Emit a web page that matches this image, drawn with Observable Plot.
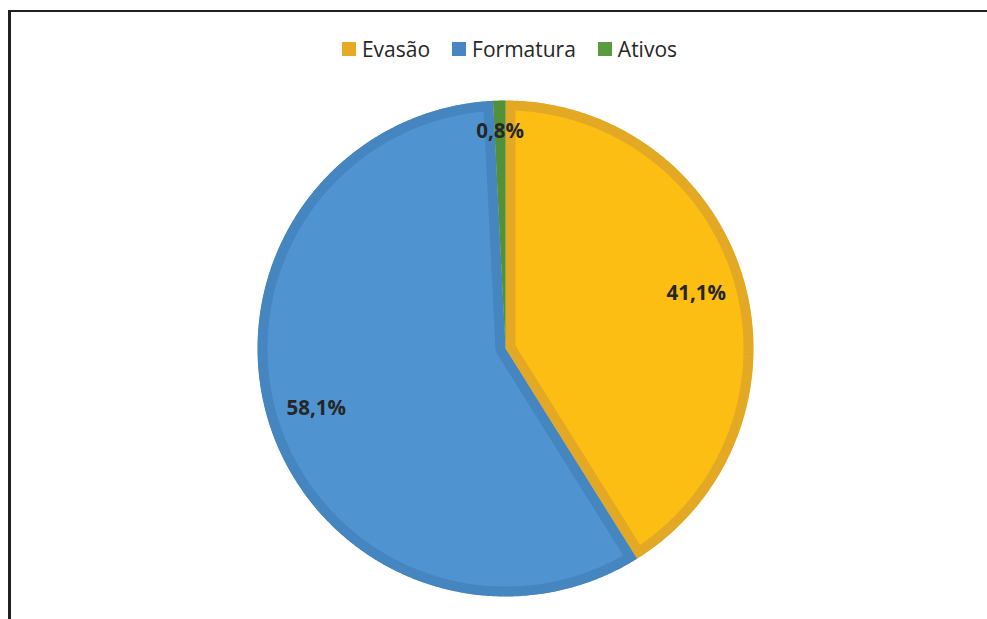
<!DOCTYPE html>
<html>
<head>
<meta charset="utf-8">
<script src="https://cdn.jsdelivr.net/npm/d3@7"></script>
<script src="https://cdn.jsdelivr.net/npm/@observablehq/plot@0.6"></script>
<style>
  html, body { margin: 0; padding: 0; background: #fff; }
  #wrap { position: relative; width: 987px; height: 619px; overflow: hidden; }
  #frame { position: absolute; left: 8px; top: 10px; width: 1000px; height: 700px;
           border-left: 3px solid #231f20; border-top: 2px solid #231f20; }
  #legend { position: absolute; top: 35px; left: 16px; width: 987px; display: flex; justify-content: center;
            gap: 22px; font-family: "Open Sans", sans-serif; font-size: 21px; line-height: 28px; color: #262626; }
  #legend .item { display: flex; align-items: center; gap: 6px; }
  #legend .sw { width: 14px; height: 14px; display: inline-block; }
  #chart { position: absolute; left: 0; top: 0; }
</style>
</head>
<body>
<div id="wrap">
  <div id="frame"></div>
  <div id="chart"></div>
  <div id="legend"></div>
</div>
<script>
// ---- data ----
const categories = ["Evasão", "Formatura", "Ativos"];
const shares = [41.1, 58.1, 0.8];
const labels = ["41,1%", "58,1%", "0,8%"];

// ---- styles ----
const fills = ["#FCBE13", "#4F94D0", "#5E9C42"];
const strokes = ["#E4A924", "#4585C0", "#53903A"];
const swatches = ["#E7AA24", "#4886C3", "#5B9B3F"];

// legend
const legend = document.getElementById("legend");
categories.forEach((c, i) => {
  const it = document.createElement("div");
  it.className = "item";
  const sw = document.createElement("span");
  sw.className = "sw";
  sw.style.background = swatches[i];
  const t = document.createElement("span");
  t.textContent = c;
  it.appendChild(sw); it.appendChild(t);
  legend.appendChild(it);
});

// pie geometry from data
const arcs = d3.pie().sort(null).value(d => d)(shares);
const slices = arcs.map((a, i) => {
  const pts = [{x: 0, y: 0}];
  const n = Math.max(4, Math.ceil((a.endAngle - a.startAngle) / (Math.PI / 360)));
  for (let k = 0; k <= n; k++) {
    const t = a.startAngle + (a.endAngle - a.startAngle) * k / n;
    pts.push({x: Math.sin(t), y: Math.cos(t)});
  }
  pts.push({x: 0, y: 0});
  return pts;
});
const labelData = arcs.map((a, i) => {
  const m = (a.startAngle + a.endAngle) / 2;
  const rr = shares[i] < 5 ? 0.875 : 0.8;
  return {x: rr * Math.sin(m), y: rr * Math.cos(m), label: labels[i]};
});

let clipCount = 0;
function clipToSelf(index, scales, values, dimensions, context, next) {
  const g = next(index, scales, values, dimensions, context);
  g.querySelectorAll("path").forEach(p => {
    const id = "sliceclip" + (clipCount++);
    const cp = document.createElementNS("http://www.w3.org/2000/svg", "clipPath");
    cp.setAttribute("id", id);
    const q = document.createElementNS("http://www.w3.org/2000/svg", "path");
    q.setAttribute("d", p.getAttribute("d"));
    cp.appendChild(q);
    g.appendChild(cp);
    p.setAttribute("clip-path", `url(#${id})`);
  });
  return g;
}

const cx = 505, cy = 348, R = 248;
const chart = Plot.plot({
  width: 987,
  height: 619,
  margin: 0,
  x: {domain: [-1, 1], range: [cx - R, cx + R], axis: null},
  y: {domain: [-1, 1], range: [cy + R, cy - R], axis: null},
  style: {fontFamily: "'Open Sans', sans-serif", background: "transparent"},
  marks: [
    ...slices.map((pts, i) => Plot.line(pts, {
      x: "x", y: "y", fill: fills[i], stroke: strokes[i], strokeWidth: 20,
      strokeLinejoin: "miter", render: clipToSelf
    })),
    Plot.text(labelData, {
      x: "x", y: "y", text: "label", fontSize: 20.5, fontWeight: "bold", fill: "#262626"
    })
  ]
});
document.getElementById("chart").appendChild(chart);
</script>
</body>
</html>
